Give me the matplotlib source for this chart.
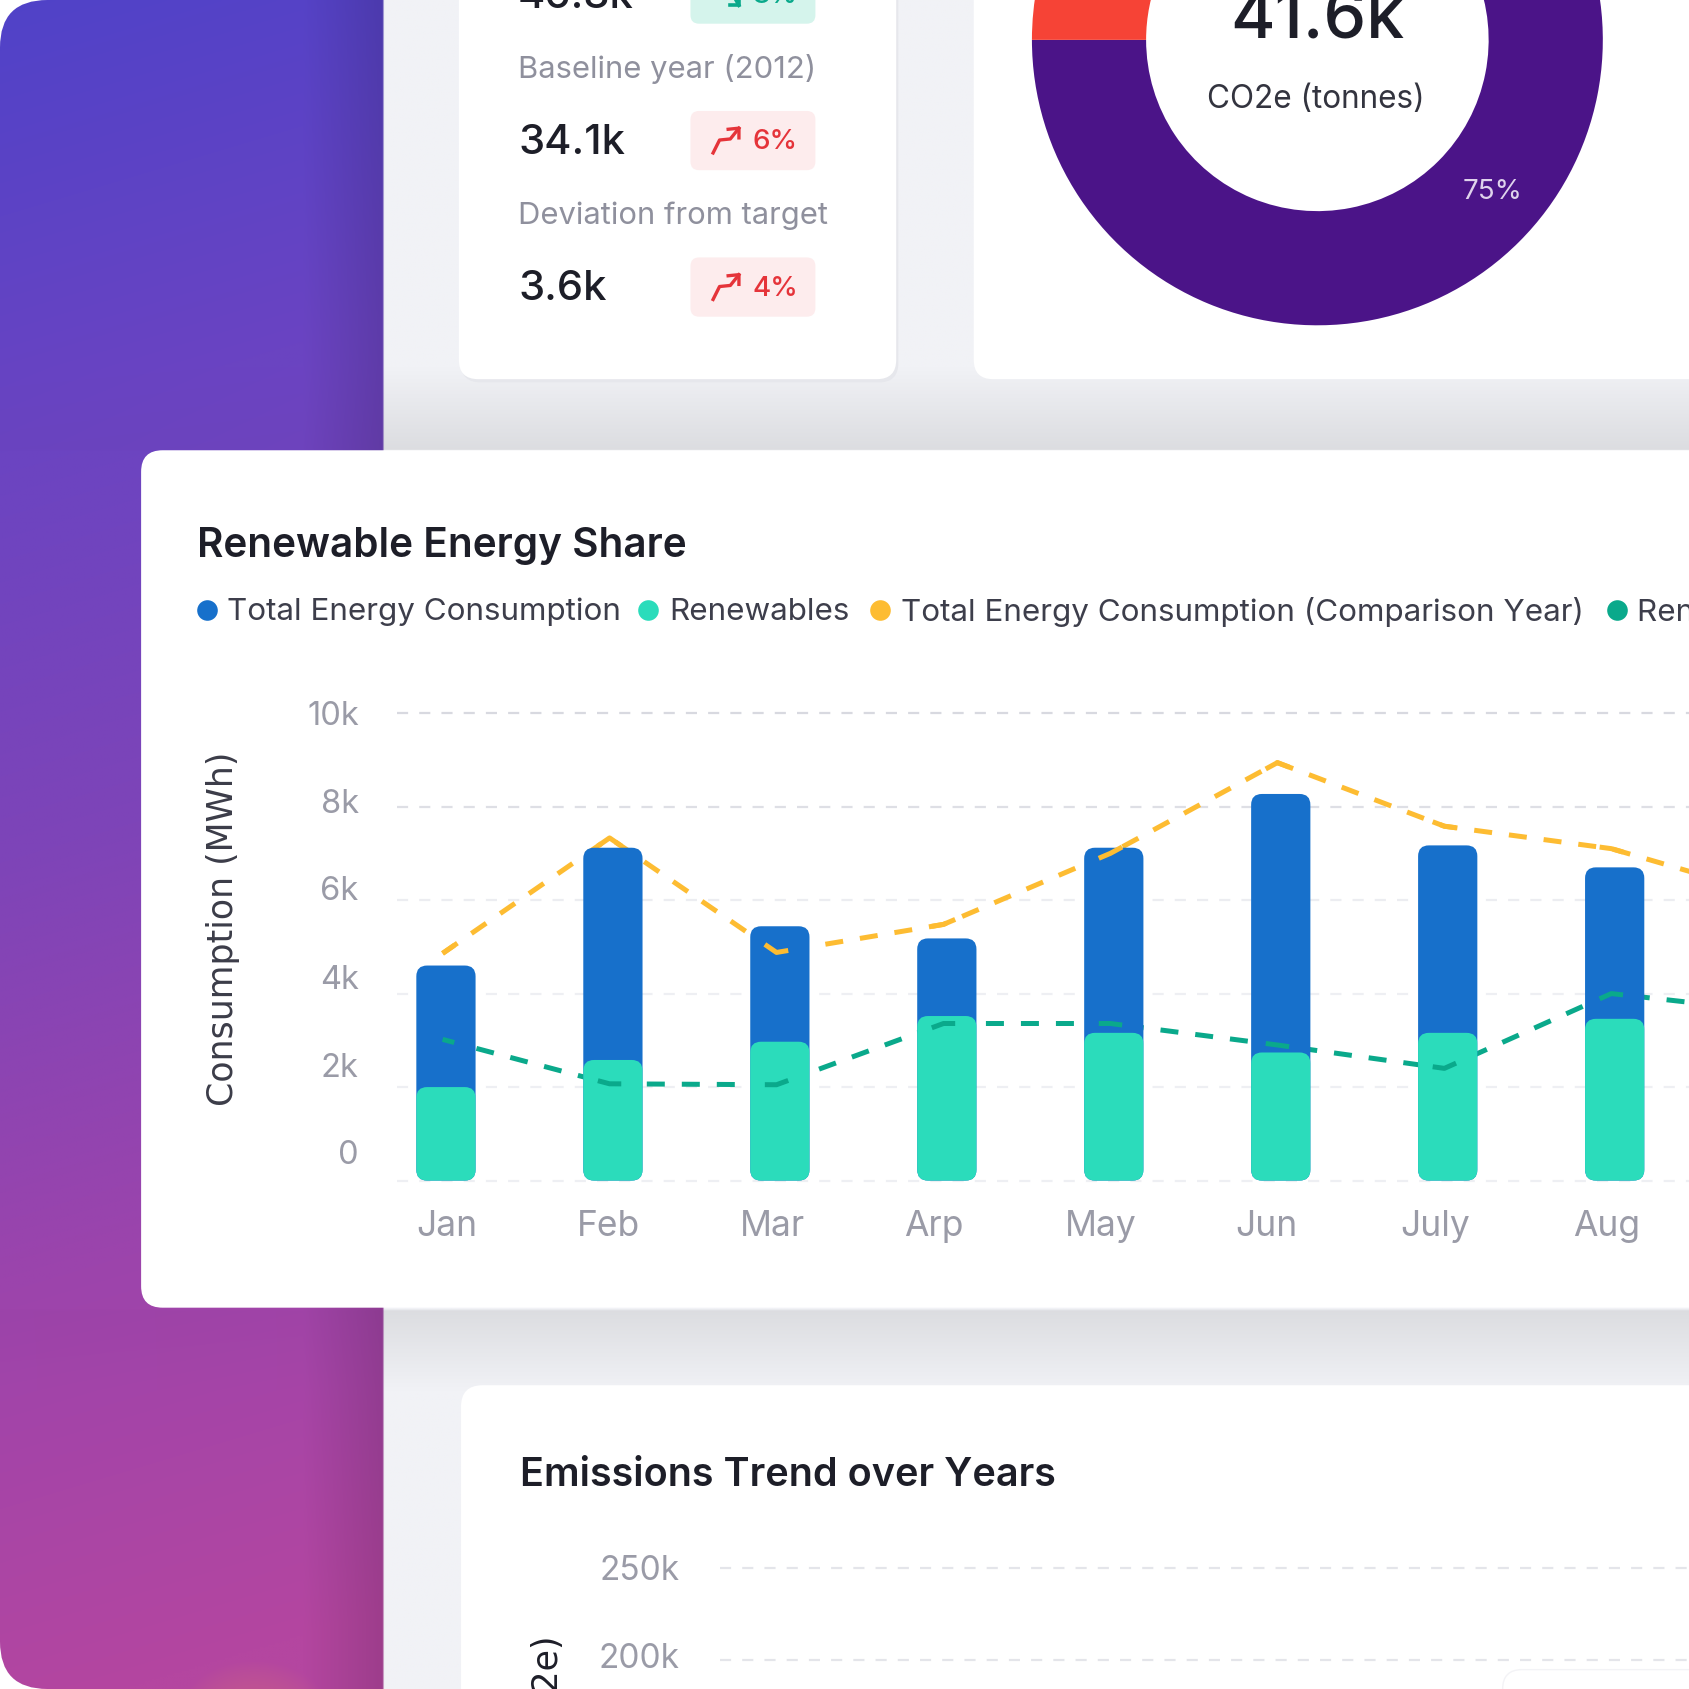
import numpy as np
import matplotlib
matplotlib.use("Agg")
import matplotlib.pyplot as plt
from matplotlib.patches import FancyBboxPatch

# fonts: Poppins is not installed, Inter is the closest
plt.rcParams['font.family'] = ['Inter', 'DejaVu Sans']

# Data
months = ["Jan", "Feb", "Mar", "Arp", "May", "Jun", "July", "Aug"]
total_energy = [4.6, 7.12, 5.44, 5.18, 7.12, 8.27, 7.17, 6.7]
renewables = [2.0, 2.58, 2.97, 3.52, 3.16, 2.74, 3.16, 3.46]
total_comparison = [4.86, 7.33, 4.88, 5.48, 7.0, 8.94, 7.58, 7.1, 6.06]
renew_comparison = [3.02, 2.07, 2.05, 3.36, 3.36, 2.9, 2.4, 4.0, 3.6]
y_ticks = [0, 2, 4, 6, 8, 10]
y_tick_labels = ["0", "2k", "4k", "6k", "8k", "10k"]
legend_names = ["Total Energy Consumption", "Renewables",
                "Total Energy Consumption (Comparison Year)", "Renewables (Comparison Year)"]
donut_values = [75, 25]
kpi_values = ["46.8k", "34.1k", "3.6k"]
kpi_labels = ["Baseline year (2012)", "Deviation from target"]
kpi_changes = ["8%", "6%", "4%"]
emission_ticks = ["250k", "200k"]

BLUE = "#1770cb"
TEAL = "#2bdcbb"
YELLOW = "#fdbc32"
GREEN = "#0aa98b"
DARK = "#1d1e28"
GRAY = "#9a9ba7"

S = 1568
fig = plt.figure(figsize=(16.89, 16.89), dpi=100, facecolor="white")

# page layer, coordinates follow the 1568 px view of the picture
bg = fig.add_axes([0, 0, 1, 1], zorder=0)
bg.set_xlim(0, S)
bg.set_ylim(S, 0)
bg.axis("off")

yy, xx = np.mgrid[0:S:2, 0:S:2]
t = np.clip((yy + 0.3 * xx) / 1600, 0, 1)
stops = [0, 0.25, 0.5, 0.75, 1]
r = np.interp(t, stops, [0x50, 0x6a, 0x7e, 0x9c, 0xb4])
g = np.interp(t, stops, [0x42, 0x44, 0x44, 0x44, 0x46])
b = np.interp(t, stops, [0xc8, 0xc2, 0xb8, 0xac, 0xa0])
img = np.dstack([r, g, b]) / 255
# panel darkens towards its right edge
dark = 1 - 0.13 * np.clip((xx - 280) / 76, 0, 1)
img = img * dark[..., None]
# orange spot at the bottom of the panel
spot = np.clip(1 - ((xx - 235) / 70) ** 2 - ((yy - 1590) / 50) ** 2, 0, 1) * 0.35
img = img * (1 - spot[..., None]) + np.array([0.85, 0.45, 0.45]) * spot[..., None]
# light page right of the panel
page = xx >= 356
img[page] = np.array([0xf1, 0xf2, 0xf6]) / 255
# shadow of the main card, nearly gone on the panel
shade = np.zeros_like(t)
shade = np.where((yy < 418) & (yy > 340), (yy - 340) / 78, shade)
shade = np.where((yy > 1214) & (yy < 1290), (1290 - yy) / 76, shade)
shade = shade * np.where(page, 1.0, 0.15)
img = img * (1 - 0.09 * shade[..., None])

im = bg.imshow(img, extent=[0, S, S, 0], aspect="auto", zorder=0, interpolation="bilinear")
page_clip = FancyBboxPatch((0, 0), S, S, boxstyle="round,pad=0,rounding_size=44",
                           transform=bg.transData, fc="none", ec="none")
bg.add_patch(page_clip)
im.set_clip_path(page_clip)
bg.set_xlim(0, S)
bg.set_ylim(S, 0)


def card(x0, y0, x1, y1, rad=20, fc="white", ec="none", z=2):
    p = FancyBboxPatch((x0, y0), x1 - x0, y1 - y0, boxstyle=f"round,pad=0,rounding_size={rad}",
                       fc=fc, ec=ec, lw=1, zorder=z)
    bg.add_patch(p)


card(428, -60, 834, 355, rad=18, fc="#e6e7ec", z=1)
card(426, -60, 832, 352, rad=18)
card(904, -60, 1640, 352, rad=18)
card(428, 1286, 1640, 1640, rad=20)
card(1395, 1550, 1640, 1640, rad=18, fc="white", ec="#f3f3f6", z=3)
card(131, 418, 1640, 1214, rad=20, z=4)

# KPI card
for label, y in zip(kpi_labels, [64, 200]):
    bg.text(481, y, label, fontsize=22.3, color="#8f909d", va="center", zorder=5)
for value, y in zip(kpi_values, [-3, 133, 268]):
    bg.text(481, y, value, fontsize=30, color=DARK, fontweight="medium", va="center", zorder=5)
for change, y0, col, fc in zip(kpi_changes, [-33, 103, 239],
                               ["#0aa98b", "#e5343a", "#e5343a"],
                               ["#d5f4ec", "#fdeced", "#fdeced"]):
    card(641, y0, 757, y0 + 55, rad=8, fc=fc, z=5)
    bg.text(699, y0 + 29, change, fontsize=20, color=col, va="center", zorder=6, fontweight="medium")
    if col == "#0aa98b":
        # green badge has the falling arrow
        bg.plot([670, 676, 680, 686], [y0 + 15, y0 + 24, y0 + 27, y0 + 38], color=col, lw=2.6, zorder=6)
        bg.plot([678, 686, 686], [y0 + 38, y0 + 38, y0 + 29], color=col, lw=2.6, zorder=6)
    else:
        bg.plot([662, 668, 678, 686], [y0 + 39, y0 + 27, y0 + 26, y0 + 16], color=col, lw=2.4, zorder=6)
        bg.plot([676, 686, 686], [y0 + 17, y0 + 16, y0 + 25], color=col, lw=2.4, zorder=6)

# Donut, the axes extend past the top of the canvas
pie_ax = fig.add_axes([958 / S, 1 - 302 / S, 530 / S, 530 / S], zorder=1)
pie_ax.pie(donut_values, startangle=90, counterclock=False, colors=["#4b1488", "#f64336"],
           radius=1, wedgeprops={"width": 106 / 265})
pie_ax.set_xlim(-1, 1)
pie_ax.set_ylim(-1, 1)
pie_ax.patch.set_alpha(0)

top = fig.add_axes([0, 0, 1, 1], zorder=5)
top.set_xlim(0, S)
top.set_ylim(S, 0)
top.axis("off")
top.text(1223, 19, "41.6k", fontsize=49, color=DARK, fontweight="medium", ha="center", va="center")
top.text(1222, 92, "CO2e (tonnes)", fontsize=22.7, color="#33343f", ha="center", va="center")
top.text(1386, 178, "75%", fontsize=20, color="#dfd3ec", ha="center", va="center")

# Main chart
ax_left, ax_top, ax_bottom = 369, 662, 1096
ax = fig.add_axes([ax_left / S, 1 - ax_bottom / S, (S - ax_left) / S, (ax_bottom - ax_top) / S], zorder=6)
ax.patch.set_alpha(0)
for sp in ax.spines.values():
    sp.set_visible(False)
ax.set_xlim((ax_left - 414) / 155, (S - 414) / 155)
ax.set_ylim(0, 10)
ax.set_xticks([])
ax.set_yticks([])

grid_cols = ["#eeeff3", "#eeeff3", "#eeeff3", "#ecedf1", "#dedfe5", "#d8d9e0"]
for tick, col in zip(y_ticks, grid_cols):
    ax.axhline(tick, color=col, lw=1.6, dashes=(5, 5), zorder=1, clip_on=False)

x = np.arange(len(months))
line_x = np.arange(len(total_comparison)) - 0.02
ax.plot(line_x, total_comparison, color=YELLOW, lw=3.6, dashes=(3.6, 3.4), zorder=2)
ax.plot(line_x, renew_comparison, color=GREEN, lw=3.6, dashes=(3.6, 3.4), zorder=2)

bar_w = 55 / 155
asp = (10 / 434) * 155
rad = 10 / 155
for xi, tot, ren in zip(x, total_energy, renewables):
    ax.add_patch(FancyBboxPatch((xi - bar_w / 2, 0), bar_w, tot, boxstyle=f"round,pad=0,rounding_size={rad}",
                                mutation_aspect=asp, fc=BLUE, ec="none", zorder=3))
    ax.add_patch(FancyBboxPatch((xi - bar_w / 2, 0), bar_w, ren, boxstyle=f"round,pad=0,rounding_size={rad}",
                                mutation_aspect=asp, fc=TEAL, ec="none", zorder=4))

# short stroke of each line stays above the bars at its point
for series, col in [(total_comparison, YELLOW), (renew_comparison, GREEN)]:
    for i in range(len(months)):
        xs = np.array([line_x[i] - 0.07, line_x[i], line_x[i] + 0.07])
        xs = xs[xs >= line_x[0]]
        ys = np.interp(xs, line_x, series)
        ax.plot(xs, ys, color=col, lw=3.6, zorder=5, solid_capstyle="butt")

# Texts of the main card
top.text(183, 507, "Renewable Energy Share", fontsize=29.2, color=DARK, fontweight="semibold", va="center")
leg_dot_x = [192, 602, 817, 1501]
for name, col, dx in zip(legend_names, [BLUE, TEAL, YELLOW, GREEN], leg_dot_x):
    top.scatter([dx], [566], s=220, color=col, linewidths=0, zorder=3)
    top.text(dx + 19, 568, name, fontsize=22.6, color="#3d3e4b", va="center", clip_on=True)

for lab, y in zip(y_tick_labels, [1073, 992, 910, 828, 747, 665]):
    top.text(333, y, lab, fontsize=23.5, color=GRAY, ha="right", va="center")
for lab, xl in zip(months, [415, 565, 717, 867, 1022, 1176, 1332, 1492]):
    top.text(xl, 1139, lab, fontsize=25.5, color=GRAY, ha="center", va="center")
top.text(207, 862, "Consumption (MWh)", fontsize=25, color="#3b3c48", rotation=90,
         ha="center", va="center", family="DejaVu Sans")

# Bottom card
top.text(483, 1370, "Emissions Trend over Years", fontsize=28.5, color=DARK, fontweight="semibold", va="center")
for lab, y, yl in zip(emission_ticks, [1458, 1540], [1456, 1541]):
    top.text(631, y, lab, fontsize=24, color=GRAY, ha="right", va="center")
    top.plot([668, S], [yl, yl], color="#e4e5ea", lw=1.6, dashes=(5, 5))
top.text(509, 1518, "Emissions (tCO2e)", fontsize=25, color="#1d1e28", rotation=90,
         ha="center", va="top", family="DejaVu Sans", clip_on=True)
top.set_xlim(0, S)
top.set_ylim(S, 0)

fig.savefig("out.png", dpi=100, facecolor="white")
